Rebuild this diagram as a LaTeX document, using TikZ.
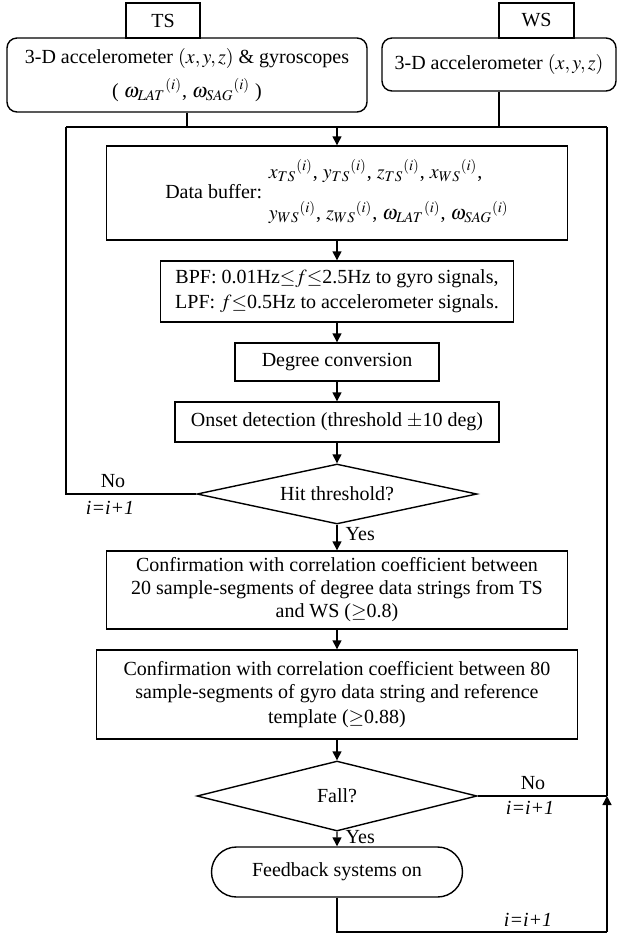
\documentclass[tikz,border=0pt]{standalone}
\usepackage{mathptmx}
\usepackage[no-math]{fontspec}
\setmainfont{Liberation Serif}
\usetikzlibrary{arrows.meta,shapes.geometric,shapes.misc}
\tikzset{
    every picture/.style={
        line width=.7pt,>={Triangle[length=4.5pt,width=4.5pt]},x=.5pt,y=-.5pt,
        font=\fontsize{10}{11.5}\selectfont
    },
    box/.style={draw,rectangle,align=center,inner sep=1pt},
    rbox/.style={box,rounded corners=5pt},
    cond/.style={draw,diamond,aspect=4,inner sep=0pt,minimum width=140pt},
    term/.style={draw,rounded rectangle,inner sep=1pt},
    lbl/.style={inner sep=1pt}
}

\begin{document}
\begin{tikzpicture}
    \useasboundingbox (0,0) rectangle (618,934);
    % sensors
    \node[box]  (ts)     at (163,20.5)  [minimum width=37pt,minimum height=17.5pt] {TS};
    \node[box]  (ws)     at (536.5,20.5)[minimum width=37.5pt,minimum height=17.5pt] {WS};
    \node[rbox] (tsacc)  at (187,75)    [minimum width=180pt,minimum height=37pt]
        {3-D accelerometer $(x,y,z)$ \& gyroscopes\\[4pt]( $\omega_{LAT}{}^{(i)}$, $\omega_{SAG}{}^{(i)}$ )};
    \node[rbox] (wsacc)  at (499,64.5)  [minimum width=117pt,minimum height=26.5pt]
        {3-D accelerometer $(x,y,z)$};
    % main column
    \node[box]  (buffer) at (337,193)   [minimum width=230.5pt,minimum height=47pt]
        {Data buffer: \begin{tabular}{@{}l@{}}
            $x_{TS}{}^{(i)}$, $y_{TS}{}^{(i)}$, $z_{TS}{}^{(i)}$, $x_{WS}{}^{(i)}$,\\[8pt]
            $y_{WS}{}^{(i)}$, $z_{WS}{}^{(i)}$, $\omega_{LAT}{}^{(i)}$, $\omega_{SAG}{}^{(i)}$
        \end{tabular}};
    \node[box]  (filt)   at (337,291.5) [minimum width=176.5pt,minimum height=30.5pt]
        {BPF: 0.01Hz$\leq$$f$$\leq$2.5Hz to gyro signals,\\[1pt]LPF: $f$$\leq$0.5Hz to accelerometer signals.};
    \node[box]  (deg)    at (337,362)   [minimum width=102pt,minimum height=19pt] {Degree conversion};
    \node[box]  (onset)  at (337,422)   [minimum width=162pt,minimum height=20pt]
        {Onset detection (threshold $\pm$10 deg)};
    \node[cond] (hit)    at (337,494)   [minimum height=30pt] {Hit threshold?};
    \node[box]  (conf1)  at (337,590)   [minimum width=230.5pt,minimum height=39pt]
        {Confirmation with correlation coefficient between\\20 sample-segments of degree data strings from TS\\and WS ($\geq$0.8)};
    \node[box]  (conf2)  at (337,694.5) [minimum width=240.5pt,minimum height=44.5pt]
        {Confirmation with correlation coefficient between 80\\sample-segments of gyro data string and reference\\[1pt]template ($\geq$0.88)};
    \node[cond] (fall)   at (337,796)   [minimum height=35pt] {Fall?};
    \node[term] (fb)     at (337,872)   [minimum width=127.5pt,minimum height=25pt] {Feedback systems on};
    % loop corners
    \coordinate (lt) at (66,127);
    \coordinate (rt) at (607,127);
    \coordinate (rb) at (607,932);
    \coordinate (jn) at (337,127);
    % labels
    \node[lbl] (no1)  at (113,481) {No};
    \node[lbl] (inc1) at (110,508) {\textit{i=i+1}};
    \node[lbl,anchor=west] (yes1) at (343,534) {Yes};
    \node[lbl] (no2)  at (533,783) {No};
    \node[lbl] (inc2) at (530,808) {\textit{i=i+1}};
    \node[lbl,anchor=west] (yes2) at (343,837) {Yes};
    \node[lbl] (inc3) at (528,920) {\textit{i=i+1}};
    % connectors
    \draw (lt) -- (rt);
    \draw (tsacc.south) -- (tsacc.south |- lt);
    \draw (wsacc.south) -- (wsacc.south |- lt);
    \draw[->] (jn) -- (buffer);
    \draw[->] (buffer) -- (filt);
    \draw[->] (filt) -- (deg);
    \draw[->] (deg) -- (onset);
    \draw[->] (onset) -- (hit);
    \draw (hit.west) -| (lt);
    \draw[->] (hit) -- (conf1);
    \draw[->] (conf1) -- (conf2);
    \draw[->] (conf2) -- (fall);
    \draw[->] (fall) -- (fb);
    \draw (fb.south) |- (rb);
    \draw (fall.east) -- (fall.east -| rb);
    \draw[->] (rb) -- (fall.east -| rb);
    \draw (fall.east -| rb) -- (rt);
\end{tikzpicture}
\end{document}
